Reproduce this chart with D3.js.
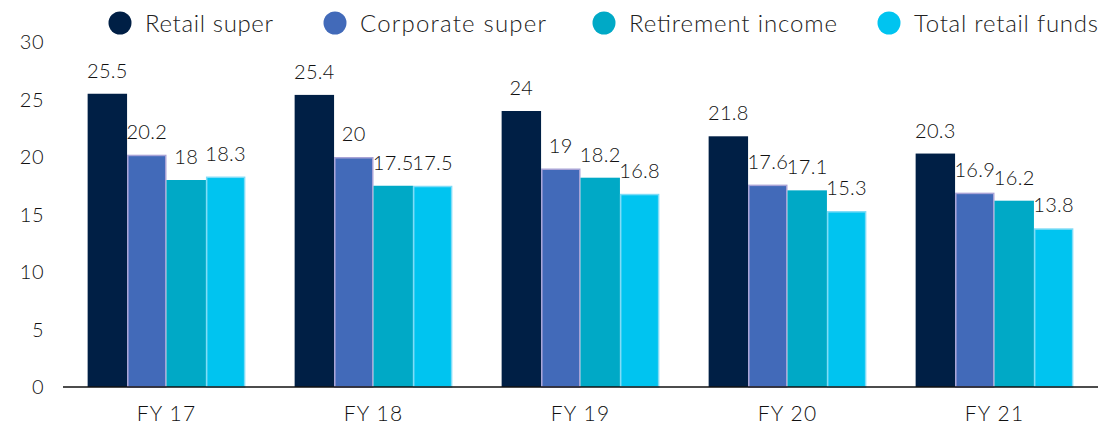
<!DOCTYPE html>
<html>
<head>
<meta charset="utf-8">
<script src="https://cdn.jsdelivr.net/npm/d3@7"></script>
<style>
  html, body { margin: 0; padding: 0; background: #fff; }
  svg { display: block; font-family: "Lato", "Open Sans", sans-serif; font-weight: 300; }
</style>
</head>
<body>
<svg id="chart" width="1104" height="425"></svg>
<script>
// Fee levels by product type and financial year
const years = ["FY 17", "FY 18", "FY 19", "FY 20", "FY 21"];
const seriesNames = ["Retail super", "Corporate super", "Retirement income", "Total retail funds"];
const retailSuper = [25.5, 25.4, 24, 21.8, 20.3];
const corporateSuper = [20.2, 20, 19, 17.6, 16.9];
const retirementIncome = [18, 17.5, 18.2, 17.1, 16.2];
const totalRetailFunds = [18.3, 17.5, 16.8, 15.3, 13.8];
const yTicks = [0, 5, 10, 15, 20, 25, 30];

const seriesValues = [retailSuper, corporateSuper, retirementIncome, totalRetailFunds];
const colors = ["#001f45", "#426ab9", "#00a9c6", "#00c4f0"];
const strokes = ["none", "#a8a3d6", "none", "#7fdcf7"];

const svg = d3.select("#chart");
const margin = { left: 63, right: 6, top: 41, bottom: 38 };
const W = 1104, H = 425;
const baseY = H - margin.bottom;

const x0 = d3.scaleBand().domain(years).range([margin.left, W - margin.right]).paddingInner(0).paddingOuter(0);
const groupW = x0.bandwidth() * 0.762;
const x1 = d3.scaleBand().domain(seriesNames).range([0, groupW]).padding(0);
const y = d3.scaleLinear().domain([0, 30]).range([baseY, margin.top + 1]);

// y tick labels (no axis line)
svg.append("g").selectAll("text").data(yTicks).join("text")
  .attr("x", 44).attr("y", d => y(d)).attr("dy", "0.35em")
  .attr("text-anchor", "end").attr("font-size", 20).attr("fill", "#111")
  .attr("letter-spacing", 0.5)
  .text(d => d);

// bars with value labels
const groups = svg.append("g").selectAll("g").data(years).join("g")
  .attr("transform", d => `translate(${x0(d) + (x0.bandwidth() - groupW) / 2},0)`);

groups.each(function(year, i) {
  const g = d3.select(this);
  seriesNames.forEach((name, s) => {
    const v = seriesValues[s][i];
    const inset = strokes[s] === "none" ? 0 : 0.75;
    g.append("rect")
      .attr("x", x1(name) + inset)
      .attr("y", y(v) + inset)
      .attr("width", x1.bandwidth() - 2 * inset)
      .attr("height", baseY - y(v) - inset)
      .attr("fill", colors[s])
      .attr("stroke", strokes[s])
      .attr("stroke-width", strokes[s] === "none" ? 0 : 1.5);
    g.append("text")
      .attr("x", x1(name) + x1.bandwidth() / 2)
      .attr("y", y(v) - 16)
      .attr("text-anchor", "middle")
      .attr("font-size", 20).attr("fill", "#111")
      .attr("letter-spacing", 0.3)
      .text(v);
  });
});

// baseline
svg.append("line")
  .attr("x1", margin.left).attr("x2", W - margin.right)
  .attr("y1", baseY).attr("y2", baseY)
  .attr("stroke", "#111").attr("stroke-width", 1.5);

// category labels
const xAxis = d3.axisBottom(x0).tickSize(0).tickPadding(0);
const xg = svg.append("g").attr("transform", `translate(0,${baseY})`).call(xAxis);
xg.select(".domain").remove();
xg.selectAll("text").attr("y", 27).attr("dy", "0.35em")
  .attr("font-size", 21).attr("fill", "#111")
  .attr("letter-spacing", 1.2)
  .attr("font-family", "Lato, 'Open Sans', sans-serif")
  .attr("font-weight", 300);

// legend
const legendX = [120, 335, 604, 889];
const legendTextW = [128, 186, 208, 184];
const legend = svg.append("g").selectAll("g").data(seriesNames).join("g")
  .attr("transform", (d, i) => `translate(${legendX[i]},23)`);
legend.append("circle").attr("r", 11.5).attr("fill", (d, i) => colors[i]);
legend.append("text").attr("x", 25).attr("y", 1).attr("dy", "0.35em")
  .attr("font-size", 24).attr("fill", "#222")
  .attr("textLength", (d, i) => legendTextW[i])
  .attr("lengthAdjust", "spacing")
  .text(d => d);
</script>
</body>
</html>
